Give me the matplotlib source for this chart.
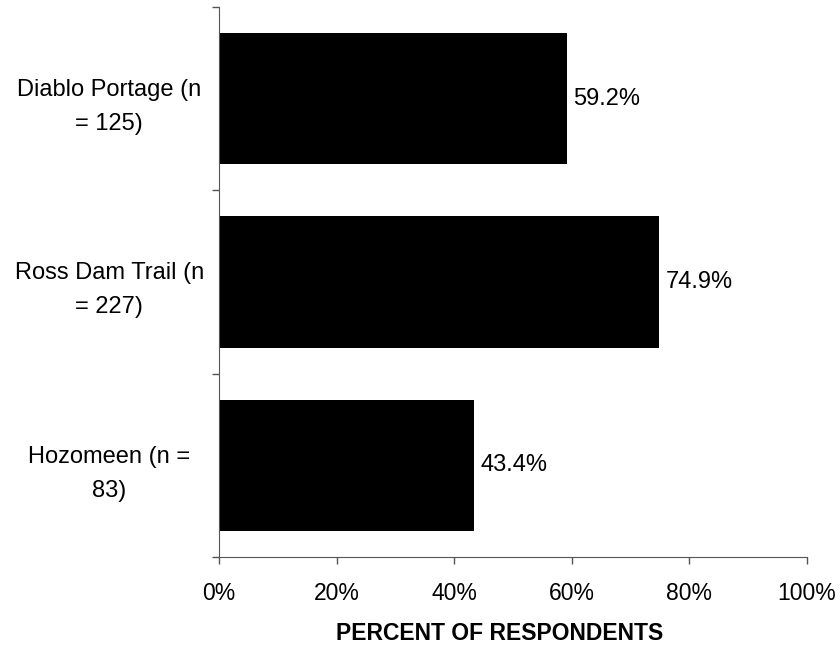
import numpy as np
import matplotlib.pyplot as plt
from matplotlib.ticker import FixedLocator, PercentFormatter

plt.rcParams['font.family'] = ['Liberation Sans', 'DejaVu Sans']

# data, top to bottom
sites = ["Diablo Portage (n\n= 125)", "Ross Dam Trail (n\n= 227)", "Hozomeen (n =\n83)"]
percents = [59.2, 74.9, 43.4]

fig = plt.figure(figsize=(8.4, 6.45), dpi=100)
ax = fig.add_axes([219 / 840, 1 - 557 / 645, (807 - 219) / 840, (557 - 7) / 645])

ypos = np.arange(len(sites))[::-1]
ax.barh(ypos, percents, height=0.715, color="black")

for y, v in zip(ypos, percents):
    ax.text(v + 1.0, y, f"{v:.1f}%", va="center", ha="left", fontsize=17)

ax.set_xlim(0, 100)
ax.set_ylim(-0.5, len(sites) - 0.5)
ax.set_xticks(np.arange(0, 101, 20))
ax.xaxis.set_major_formatter(PercentFormatter(decimals=0))
ax.set_yticks(ypos)
ax.set_yticklabels(sites, ha="center", multialignment="center",
                   fontsize=17, linespacing=1.7)
ax.yaxis.set_minor_locator(FixedLocator(np.arange(-0.5, len(sites), 1.0)))
ax.tick_params(axis="y", which="major", length=0, pad=79)
ax.tick_params(axis="y", which="minor", length=5, width=1, color="#555555")
ax.tick_params(axis="x", length=5, width=1, color="#555555", pad=13,
               labelsize=16.5)

for s in ["top", "right"]:
    ax.spines[s].set_visible(False)
for s in ["left", "bottom"]:
    ax.spines[s].set_color("#555555")

# label sits a bit left of the axis centre in the original
ax.set_xlabel("PERCENT OF RESPONDENTS", fontsize=16.5, fontweight="bold",
              labelpad=12, x=0.478)

fig.savefig("out.png", dpi=100)
